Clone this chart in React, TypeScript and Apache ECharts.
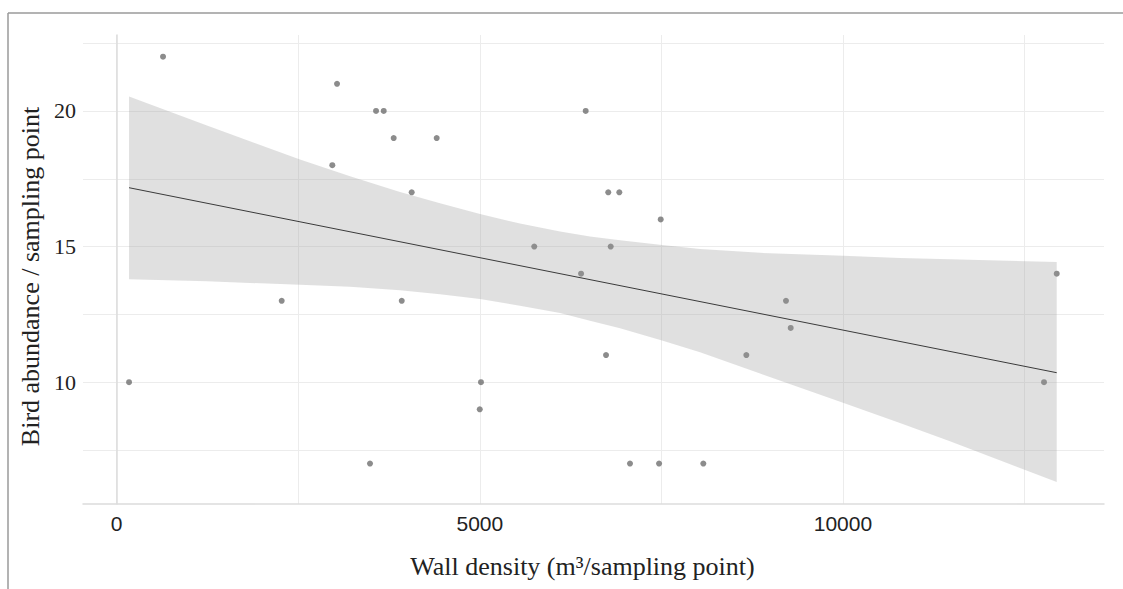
import React, { useEffect, useRef } from "react";
import * as echarts from "echarts";

// Observations
const wallDensity = [170, 638, 2272, 2969, 3034, 3571, 3677, 3814, 3488, 3925, 4062, 4406, 5016, 4999, 5750, 6394, 6458, 6769, 6921, 6802, 6738, 7068, 7491, 7468, 8078, 8670, 9216, 9281, 12769, 12944];
const birdAbundance = [10, 22, 13, 18, 21, 20, 20, 19, 7, 13, 17, 19, 10, 9, 15, 14, 20, 17, 17, 15, 11, 7, 16, 7, 7, 11, 13, 12, 10, 14];

// Fitted line
const fitX = [170, 12944];
const fitY = [17.17, 10.35];

// Confidence band
const bandX = [170, 1243, 2524, 3213, 3901, 4452, 5003, 5553, 6105, 6517, 6931, 7509, 8033, 8859, 10001, 10785, 11474, 12944];
const bandUpper = [20.53, 19.46, 18.21, 17.59, 17.01, 16.6, 16.2, 15.85, 15.56, 15.37, 15.23, 15.06, 14.91, 14.77, 14.66, 14.58, 14.53, 14.43];
const bandLower = [13.8, 13.72, 13.59, 13.52, 13.39, 13.24, 13.07, 12.82, 12.55, 12.27, 11.99, 11.54, 11.1, 10.32, 9.24, 8.5, 7.82, 6.32];

// Axes
const xGridValues = [0, 2500, 5000, 7500, 10000, 12500];
const xTickValues = [0, 5000, 10000];
const xTickLabels = ["0", "5000", "10000"];
const yGridValues = [7.5, 10, 12.5, 15, 17.5, 20, 22.5];
const yTickValues = [10, 15, 20];
const yTickLabels = ["10", "15", "20"];

const xTitle = "Wall density (m³/sampling point)";
const yTitle = "Bird abundance / sampling point";

export default function App() {
  const ref = useRef<HTMLDivElement>(null);
  useEffect(() => {
    if (!ref.current) return;
    const chart = echarts.init(ref.current, undefined, { renderer: "svg" });
    const points = wallDensity.map((x, i) => [x, birdAbundance[i]]);
    const fit = fitX.map((x, i) => [x, fitY[i]]);
    const gridColor = "#ececec";
    chart.setOption({
      animation: false,
      backgroundColor: "#ffffff",
      grid: { left: 83, top: 35, right: 19, bottom: 85, containLabel: false },
      xAxis: {
        type: "value",
        min: -464,
        max: 13595,
        name: xTitle,
        nameLocation: "middle",
        nameGap: 49,
        nameTextStyle: { fontFamily: "Liberation Serif", fontSize: 26, color: "#222", padding: [0, 22, 0, 0] },
        axisLine: { show: true, lineStyle: { color: "#dcdcdc", width: 1.5 } },
        axisTick: { show: false },
        splitLine: { show: false },
        axisLabel: {
          customValues: xTickValues,
          formatter: (v: number) => xTickLabels[xTickValues.indexOf(v)] ?? String(v),
          fontFamily: "Liberation Sans",
          fontSize: 21,
          color: "#222",
          margin: 9,
        },
      },
      yAxis: {
        type: "value",
        min: 5.51,
        max: 22.8,
        name: yTitle,
        nameLocation: "middle",
        nameGap: 40,
        nameTextStyle: { fontFamily: "Liberation Serif", fontSize: 26, color: "#222", padding: [0, 14, 0, 0] },
        axisLine: { show: true, lineStyle: { color: "#dcdcdc", width: 1.5 } },
        axisTick: { show: false },
        splitLine: { show: false },
        axisLabel: {
          customValues: yTickValues,
          formatter: (v: number) => yTickLabels[yTickValues.indexOf(v)] ?? String(v),
          fontFamily: "Liberation Serif",
          fontSize: 22,
          color: "#222",
          margin: 7,
        },
      },
      graphic: [
        { type: "line", shape: { x1: 8, y1: 13, x2: 1123, y2: 13 }, style: { stroke: "#9a9a9a", lineWidth: 1.5 }, silent: true },
        { type: "line", shape: { x1: 8, y1: 13, x2: 8, y2: 589 }, style: { stroke: "#9a9a9a", lineWidth: 1.5 }, silent: true },
      ],
      series: [
        {
          type: "scatter",
          data: [],
          silent: true,
          z: 0,
          markLine: {
            silent: true,
            z: 0,
            symbol: ["none", "none"],
            label: { show: false },
            lineStyle: { color: gridColor, width: 1, type: "solid" },
            emphasis: { disabled: true },
            data: [
              ...xGridValues.map((v) => ({ xAxis: v })),
              ...yGridValues.map((v) => ({ yAxis: v })),
            ],
          },
        },
        {
          type: "scatter",
          data: points,
          symbol: "circle",
          symbolSize: 6,
          itemStyle: { color: "#6f6f6f" },
          z: 6,
        },
        {
          type: "custom",
          data: [[bandX[0], bandUpper[0]]],
          encode: { x: 0, y: 1 },
          silent: true,
          z: 7,
          renderItem: (params: any, api: any) => {
            if (params.dataIndex !== 0) return null;
            const pts: number[][] = [];
            for (let i = 0; i < bandX.length; i++) pts.push(api.coord([bandX[i], bandUpper[i]]));
            for (let i = bandX.length - 1; i >= 0; i--) pts.push(api.coord([bandX[i], bandLower[i]]));
            return {
              type: "polygon",
              shape: { points: pts },
              style: { fill: "rgba(153,153,153,0.3)", stroke: "none" },
            };
          },
        },
        {
          type: "line",
          data: fit,
          symbol: "none",
          lineStyle: { color: "#3a3a3a", width: 1 },
          z: 8,
          silent: true,
        },
      ],
    });
    return () => chart.dispose();
  }, []);
  return <div ref={ref} style={{ position: "fixed", left: 0, top: 0, width: 1123, height: 589 }} />;
}
